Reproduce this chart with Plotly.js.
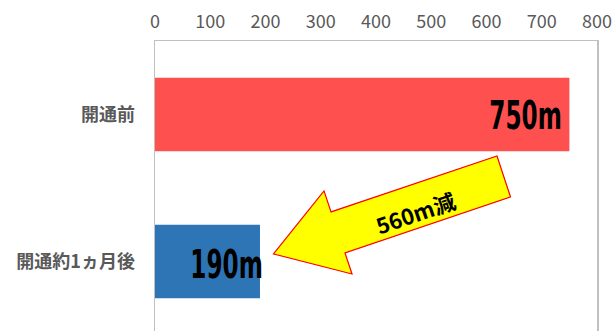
<!DOCTYPE html>
<html><head><meta charset="utf-8">
<script src="https://cdn.plot.ly/plotly-3.0.1.min.js"></script>
<style>
html,body{margin:0;padding:0;overflow:hidden;background:#fff}
.annotation[data-index="0"] .annotation-text,
.annotation[data-index="1"] .annotation-text{transform-box:fill-box;transform-origin:right center;transform:scaleX(0.66);}
</style></head>
<body><div id="chart" style="width:613px;height:331px"></div>
<script>
const categories = ['開通前', '開通約1ヵ月後'];
const distances = [750, 190];
const barColors = ['#FF5050', '#2E75B6'];
const xTickVals = [0, 100, 200, 300, 400, 500, 600, 700, 800];
const reductionLabel = '560m減';
// arrow outline (x in metres, y in category index units)
const arrowX = [619, 643.5, 343.9, 356.6, 214.5, 305.9, 318.6];
const arrowY = [0.282, 0.561, 0.942, 1.085, 0.949, 0.520, 0.663];

const yIdx = categories.map((c, i) => i);
const path = arrowX.map((x, i) => (i ? 'L' : 'M') + x + ',' + arrowY[i]).join(' ') + ' Z';

const trace = {
  type: 'bar', orientation: 'h',
  x: distances, y: yIdx, width: 0.5,
  marker: {color: barColors, line: {width: 0}},
  hoverinfo: 'none'
};

const valueFont = {family: '"DejaVu Sans Condensed", "DejaVu Sans", sans-serif', size: 39, color: '#000', weight: 'bold'};

const layout = {
  width: 613, height: 331,
  margin: {l: 155, r: 16, t: 41, b: 0, pad: 0},
  paper_bgcolor: '#fff', plot_bgcolor: '#fff',
  showlegend: false,
  xaxis: {
    side: 'top', range: [0, 800], tickvals: xTickVals,
    showgrid: false, zeroline: false,
    showline: true, linecolor: '#C0C0C0', linewidth: 1.5, mirror: false,
    ticks: '', ticklabelstandoff: 4,
    tickfont: {family: '"Noto Sans CJK JP", "Noto Sans", sans-serif', size: 18, color: '#595959'}
  },
  yaxis: {
    range: [1.473, -0.5], tickvals: yIdx, ticktext: categories,
    showgrid: false, zeroline: false,
    showline: true, linecolor: '#C0C0C0', linewidth: 1.5, mirror: true,
    ticks: '', ticklabelstandoff: 15,
    tickfont: {family: '"Noto Sans CJK JP", sans-serif', size: 18, color: '#595959', weight: 'bold'}
  },
  shapes: [{
    type: 'path', xref: 'x', yref: 'y', path: path,
    fillcolor: '#FFFF00', line: {color: '#FF0000', width: 1.2}, layer: 'above'
  }],
  annotations: [
    {x: distances[0], y: 0, xref: 'x', yref: 'y', text: distances[0] + 'm', showarrow: false,
     xanchor: 'right', yanchor: 'middle', xshift: -5, yshift: -1, font: valueFont},
    {x: distances[1], y: 1, xref: 'x', yref: 'y', text: distances[1] + 'm', showarrow: false,
     xanchor: 'right', yanchor: 'middle', xshift: 5, yshift: -3, font: valueFont},
    {x: 470.6, y: 0.663, xref: 'x', yref: 'y', text: reductionLabel, showarrow: false,
     textangle: -19, xanchor: 'center', yanchor: 'middle',
     font: {family: '"Noto Sans CJK JP", sans-serif', size: 22, color: '#000', weight: 'bold'}}
  ]
};

Plotly.newPlot('chart', [trace], layout, {staticPlot: true, displayModeBar: false});
</script></body></html>
